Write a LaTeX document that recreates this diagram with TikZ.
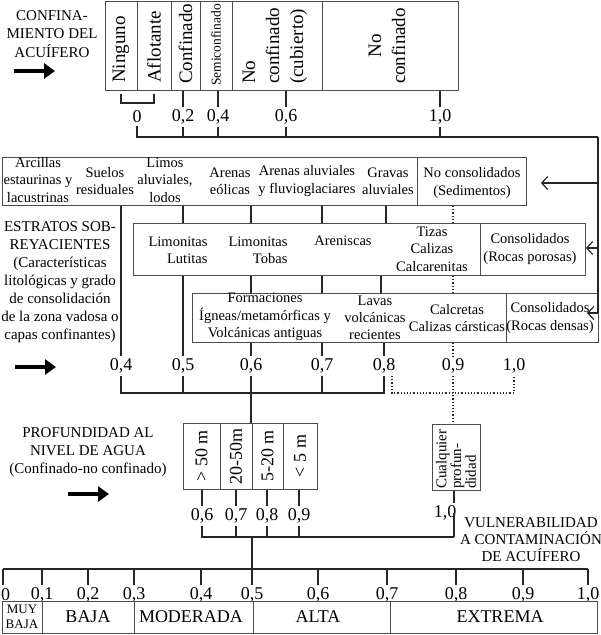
\documentclass[tikz,border=0pt]{standalone}
\usepackage{fontspec}
\setmainfont{Liberation Serif}
\usetikzlibrary{arrows.meta,calc}
\begin{document}
\begin{tikzpicture}[x=1pt,y=-1pt,
  ln/.style={line width=1.2pt, draw=black!85},
  fr/.style={line width=0.9pt, draw=black!70},
  frame/.style={fr, inner sep=0pt, anchor=north west},
  txt/.style={font=\fontsize{14.5}{17.3}\selectfont, align=center, inner sep=0pt},
  ttl/.style={font=\fontsize{15}{18.3}\selectfont, align=center, inner sep=0pt},
  num/.style={font=\fontsize{18}{20}\selectfont, inner xsep=0pt, inner ysep=2.5pt},
  vt/.style={rotate=90, inner sep=0pt, font=\fontsize{19}{24}\selectfont},
  dot/.style={line width=1.2pt, dotted, draw=black!85},
  bigarrow/.style={line width=4.5pt, -{Triangle[length=11pt,width=15pt]}},
  thinarrow/.style={ln, -{Straight Barb[length=6pt,width=13pt]}}
]
\useasboundingbox (0,0) rectangle (601,635);

% ---------- left titles and arrows ----------
\node[ttl] (tconf) at (52,34) {CONFINA-\\MIENTO DEL\\ACUÍFERO};
\coordinate (a1s) at (14,71); \coordinate (a1e) at (55,71);
\draw[bigarrow] (a1s) -- (a1e);
\node[ttl, font=\fontsize{15}{18}\selectfont] (testr) at (60,282) {ESTRATOS SOB-\\REYACIENTES\\(Características\\litológicas y grado\\de consolidación\\de la zona vadosa o\\capas confinantes)};
\coordinate (a2s) at (15,367); \coordinate (a2e) at (56,367);
\draw[bigarrow] (a2s) -- (a2e);
\node[ttl, font=\fontsize{15}{18}\selectfont] (tprof) at (88,452) {PROFUNDIDAD AL\\NIVEL DE AGUA\\(Confinado-no confinado)};
\coordinate (a3s) at (68,494); \coordinate (a3e) at (109,494);
\draw[bigarrow] (a3s) -- (a3e);

% ---------- confinement box ----------
\node[frame, minimum width=353pt, minimum height=89pt] (conf) at (105,1) {};
\foreach \x in {137,171,200,232,322} \draw[fr] (\x,1) -- (\x,90);
\node[vt, anchor=west] (c1) at (121,83) {Ninguno};
\node[vt, anchor=west] (c2) at (154,83) {Aflotante};
\node[vt, anchor=west] (c3) at (185.5,84) {Confinado};
\node[vt, anchor=west, font=\fontsize{13.5}{15}\selectfont] (c4) at (216,86) {Semiconfinado};
\node[vt, anchor=west, align=left] (c5) at (275,84) {No\\confinado\\(cubierto)};
\node[vt, align=center] (c6) at (387,46) {No\\confinado};

\node[num] (t0) at (137,117) {0};
\node[num] (t2) at (183,117) {0,2};
\node[num] (t4) at (218,117) {0,4};
\node[num] (t6) at (286,117) {0,6};
\node[num] (t10) at (440,117) {1,0};

\draw[ln] ($(conf.south -| c1)+(0,3)$) -- ++(0,9) -| ($(conf.south -| c2)+(0,3)$);
\foreach \n in {t2,t4,t6,t10} \draw[ln] (\n |- conf.south) -- (\n.north);
\coordinate (rc) at (598,137);
\draw[ln] (t0.south) |- (rc);
\foreach \n in {t2,t4,t6,t10} \draw[ln] (\n.south) -- (\n.south |- rc);

% ---------- strata rows ----------
\node[frame, minimum width=524pt, minimum height=48pt] (row1) at (2,157) {};
\draw[fr] (417,157) -- (417,205);
\node[txt] (r1a) at (38,180) {Arcillas\\estaurinas y\\lacustrinas};
\node[txt] (r1b) at (105,181) {Suelos\\residuales};
\node[txt] (r1c) at (165,180) {Limos\\aluviales,\\lodos};
\node[txt] (r1d) at (230,181) {Arenas\\eólicas};
\node[txt] (r1e) at (307,181) {Arenas aluviales\\y fluvioglaciares};
\node[txt] (r1f) at (388,181) {Gravas\\aluviales};
\node[txt] (r1g) at (472,183) {No consolidados\\(Sedimentos)};

\node[frame, minimum width=452pt, minimum height=52pt] (row2) at (133,223) {};
\draw[fr] (480,223) -- (480,275);
\node[txt, align=right] (r2a) at (178,250) {Limonitas\\Lutitas};
\node[txt, align=right] (r2b) at (258,250) {Limonitas\\Tobas};
\node[txt] (r2c) at (343,241) {Areniscas};
\node[txt] (r2d) at (432,249) {Tizas\\Calizas\\Calcarenitas};
\node[txt] (r2e) at (530,249) {Consolidados\\(Rocas porosas)};

\node[frame, minimum width=406pt, minimum height=49pt] (row3) at (192,293) {};
\draw[fr] (506,293) -- (506,342);
\node[txt] (r3a) at (265,317) {Formaciones\\Ígneas/metamórficas y\\Volcánicas antiguas};
\node[txt] (r3b) at (375,318) {Lavas\\volcánicas\\recientes};
\node[txt] (r3c) at (457,318) {Calcretas\\Calizas cársticas};
\node[txt] (r3d) at (550,318) {Consolidados\\(Rocas densas)};

% right feed line
\coordinate (ar1) at (598,183);
\coordinate (ar2) at (598,248);
\coordinate (ar3) at (598,313);
\draw[ln] (rc) -- (ar3);
\draw[thinarrow] (ar1) -- ($(row1.east |- ar1)+(14,0)$);
\draw[thinarrow] (ar2) -- (row2.east |- ar2);
\draw[thinarrow] (ar3) -- ($(ar3)+(-11,0)$);

% strata ratings
\node[num] (s4) at (121,366) {0,4};
\node[num] (s5) at (183,366) {0,5};
\node[num] (s6) at (251,366) {0,6};
\node[num] (s7) at (322,366) {0,7};
\node[num] (s8) at (384,366) {0,8};
\node[num] (s9) at (453,366) {0,9};
\node[num] (s10) at (514,366) {1,0};

\coordinate (x8a) at (386,0);
\coordinate (x8b) at (381,0);
\draw[ln] (s4 |- row1.south) -- (s4.north);
\draw[ln] (s5 |- row1.south) -- (s5 |- row2.north);
\draw[ln] (s5 |- row2.south) -- (s5.north);
\foreach \n in {s6,s7} {
  \draw[ln] (\n |- row1.south) -- (\n |- row2.north);
  \draw[ln] (\n |- row2.south) -- (\n |- row3.north);
  \draw[ln] (\n |- row3.south) -- (\n.north);
}
\draw[ln] (x8a |- row1.south) -- (x8a |- row2.north);
\draw[ln] (x8b |- row2.south) -- (x8b |- row3.north);
\draw[ln] (s8 |- row3.south) -- (s8.north);
\draw[dot] (s9 |- row1.south) -- (s9 |- row2.north);
\draw[dot] (s9 |- row2.south) -- (s9 |- row3.north);
\draw[dot] (s9 |- row3.south) -- (s9.north);

\coordinate (hb) at (251,393);
\draw[ln] (s4.south) |- (s8.south |- hb) -- (s8.south);
\draw[ln] (s5.south) -- (s5.south |- hb);
\draw[ln] (s7.south) -- (s7.south |- hb);
\draw[dot] ($(s8.south)+(8,0)$) |- (s10.south |- hb) -- (s10.south);

% ---------- depth ----------
\node[frame, minimum width=134pt, minimum height=66pt] (depth) at (183,423) {};
\foreach \x in {220,252,283} \draw[fr] (\x,423) -- (\x,489);
\node[vt, font=\fontsize{18}{20}\selectfont] (p1) at (201.5,456) {\textgreater\ 50 m};
\node[vt, font=\fontsize{18}{20}\selectfont] (p2) at (236,456) {20-50m};
\node[vt, font=\fontsize{18}{20}\selectfont] (p3) at (267.5,456) {5-20 m};
\node[vt, font=\fontsize{18}{20}\selectfont] (p4) at (300,456) {\textless\ 5 m};
\draw[ln] (s6.south) -- (s6.south |- depth.north);

\node[frame, minimum width=48pt, minimum height=66pt] (cual) at (432,424) {};
\node[vt, align=left, anchor=west, font=\fontsize{15}{12.5}\selectfont] (cualt) at (456,489) {Cualquier\\profun-\\didad};
\draw[dot] (s9.south) -- (s9.south |- cual.north);

\node[num] (d6) at (202,516) {0,6};
\node[num] (d7) at (236,516) {0,7};
\node[num] (d8) at (267,516) {0,8};
\node[num] (d9) at (299,516) {0,9};
\node[num] (c10) at (445,513) {1,0};
\foreach \n in {d6,d7,d8,d9} \draw[ln] (\n |- depth.south) -- (\n.north);
\coordinate (cq) at (454,537);
\draw[ln] (d6.south) |- (cq);
\foreach \n in {d7,d8,d9} \draw[ln] (\n.south) -- (\n.south |- cq);
\draw[ln] (cq |- cual.south) -- ++(0,12);
\draw[ln] (cq) -- ++(0,-24);
\coordinate (hd) at (252,537);
\coordinate (bs) at (252,569);
\draw[ln] (hd) -- (bs);

\node[ttl, font=\fontsize{15}{17}\selectfont] (vul) at (531,540) {VULNERABILIDAD\\A CONTAMINACIÓN\\DE ACUÍFERO};

% ---------- bottom scale ----------
\coordinate (bl) at (3,569);
\coordinate (br) at (588,569);
\draw[ln] (bl) -- (br);
\foreach \x in {3,42,88,134,201,252,318,387,456,523,588} \draw[ln] (\x,569) -- (\x,585);
\node[num, anchor=west] (b0) at (1,595) {0};
\foreach \x/\t/\n in {42/{0,1}/1,88/{0,2}/2,134/{0,3}/3,201/{0,4}/4,252/{0,5}/5,318/{0,6}/6,387/{0,7}/7,456/{0,8}/8,523/{0,9}/9,588/{1,0}/10}
  \node[num] (b\n) at (\x,595) {\t};

\node[frame, minimum width=595pt, minimum height=32pt] (bar) at (2,601) {};
\foreach \x in {42,134,253,390} \draw[fr] (\x,601) -- (\x,633);
\node[txt, font=\fontsize{13}{15}\selectfont] (v1) at (22,617) {MUY\\BAJA};
\node[txt, font=\fontsize{18}{20}\selectfont] (v2) at (88,617) {BAJA};
\node[txt, font=\fontsize{18}{20}\selectfont] (v3) at (191,617) {MODERADA};
\node[txt, font=\fontsize{18}{20}\selectfont] (v4) at (318,617) {ALTA};
\node[txt, font=\fontsize{18}{20}\selectfont] (v5) at (500,617) {EXTREMA};
\end{tikzpicture}
\end{document}
